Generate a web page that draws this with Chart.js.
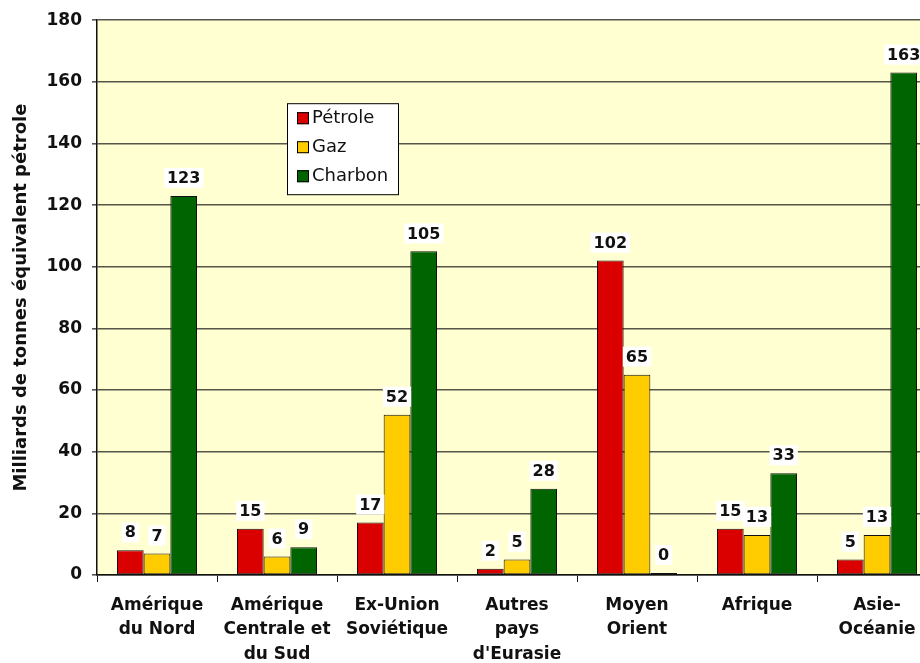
<!DOCTYPE html>
<html>
<head>
<meta charset="utf-8">
<script src="https://cdn.jsdelivr.net/npm/chart.js@4.4.1/dist/chart.umd.min.js"></script>
<style>
  html, body { margin: 0; padding: 0; background: #fff; overflow: hidden; }
  #wrap { width: 920px; height: 663px; overflow: hidden; }
</style>
</head>
<body>
<div id="wrap"><canvas id="chart" width="940" height="663"></canvas></div>
<script>
const regions = [
  ['Amérique', 'du Nord'],
  ['Amérique', 'Centrale et', 'du Sud'],
  ['Ex-Union', 'Soviétique'],
  ['Autres', 'pays', "d'Eurasie"],
  ['Moyen', 'Orient'],
  ['Afrique'],
  ['Asie-', 'Océanie'],
];
const petrole = [8, 15, 17, 2, 102, 15, 5];
const gaz = [7, 6, 52, 5, 65, 13, 13];
const charbon = [123, 9, 105, 28, 0, 33, 163];
const yTicks = [0, 20, 40, 60, 80, 100, 120, 140, 160, 180];

const FONT = 'DejaVu Sans';

// fond jaune pâle de la zone de tracé
const plotBg = {
  id: 'plotBg',
  beforeDraw(chart) {
    const {ctx, chartArea: a} = chart;
    ctx.save();
    ctx.fillStyle = '#FFFFD2';
    ctx.fillRect(a.left, a.top, a.right - a.left, a.bottom - a.top);
    ctx.restore();
  }
};

// étiquettes de valeur sur fond blanc
const valueLabels = {
  id: 'valueLabels',
  afterDatasetsDraw(chart) {
    const ctx = chart.ctx;
    ctx.save();
    ctx.font = 'bold 16px ' + FONT;
    ctx.textAlign = 'center';
    ctx.textBaseline = 'middle';
    chart.data.datasets.forEach((ds, i) => {
      chart.getDatasetMeta(i).data.forEach((bar, j) => {
        const txt = String(ds.data[j]);
        const w = ctx.measureText(txt).width + 6;
        const y = Math.min(bar.y, bar.base) - 18;
        ctx.fillStyle = '#fff';
        ctx.fillRect(bar.x - w / 2, y - 10, w, 20);
        ctx.fillStyle = '#111';
        ctx.fillText(txt, bar.x, y + 1);
      });
    });
    ctx.restore();
  }
};

// légende encadrée dans la zone de tracé
const boxLegend = {
  id: 'boxLegend',
  afterDraw(chart) {
    const {ctx, chartArea: a} = chart;
    const x = a.left + 190, y = a.top + 83, w = 111, h = 91;
    ctx.save();
    ctx.fillStyle = '#fff';
    ctx.fillRect(x, y, w, h);
    ctx.strokeStyle = '#000';
    ctx.lineWidth = 1;
    ctx.strokeRect(x + 0.5, y + 0.5, w, h);
    ctx.font = '18px ' + FONT;
    ctx.textBaseline = 'middle';
    chart.data.datasets.forEach((ds, i) => {
      const cy = y + 15 + i * 29;
      ctx.fillStyle = ds.backgroundColor;
      ctx.fillRect(x + 10, cy - 6, 12, 12);
      ctx.strokeStyle = '#000';
      ctx.strokeRect(x + 10.5, cy - 5.5, 11, 11);
      ctx.fillStyle = '#111';
      ctx.fillText(ds.label, x + 25, cy);
    });
    ctx.restore();
  }
};

new Chart(document.getElementById('chart'), {
  type: 'bar',
  data: {
    labels: regions,
    datasets: [
      {label: 'Pétrole', data: petrole, backgroundColor: '#DA0000'},
      {label: 'Gaz', data: gaz, backgroundColor: '#FFCC00'},
      {label: 'Charbon', data: charbon, backgroundColor: '#006400'},
    ].map(d => Object.assign(d, {
      borderColor: '#111',
      borderWidth: 1,
      borderSkipped: false,
      minBarLength: 2,
      categoryPercentage: 0.667,
      barPercentage: 1,
    }))
  },
  options: {
    responsive: false,
    animation: false,
    layout: {padding: {top: 18, right: 3, left: 0, bottom: 0}},
    plugins: {
      legend: {display: false},
      tooltip: {enabled: false},
    },
    scales: {
      x: {
        offset: true,
        grid: {
          offset: true,
          drawOnChartArea: false,
          drawTicks: true,
          tickLength: 7,
          color: '#111',
        },
        border: {color: '#111', width: 1.5},
        ticks: {
          color: '#111',
          padding: 11,
          maxRotation: 0,
          autoSkip: false,
          font: {family: FONT, size: 17, weight: 'bold', lineHeight: 1.45},
        },
        afterFit(scale) { scale.height = 88; },
      },
      y: {
        min: 0,
        max: 180,
        afterBuildTicks(scale) { scale.ticks = yTicks.map(v => ({value: v})); },
        grid: {
          color: '#55554a',
          lineWidth: 1.6,
          tickLength: 5,
        },
        border: {color: '#111', width: 1.5},
        ticks: {
          color: '#111',
          padding: 10,
          font: {family: FONT, size: 17, weight: 'bold'},
        },
        title: {
          display: true,
          text: 'Milliards de tonnes équivalent pétrole',
          color: '#111',
          padding: {top: 11, bottom: 0},
          font: {family: FONT, size: 18, weight: 'bold'},
        },
        afterFit(scale) { scale.width = 97; },
      }
    }
  },
  plugins: [plotBg, valueLabels, boxLegend]
});
</script>
</body>
</html>
